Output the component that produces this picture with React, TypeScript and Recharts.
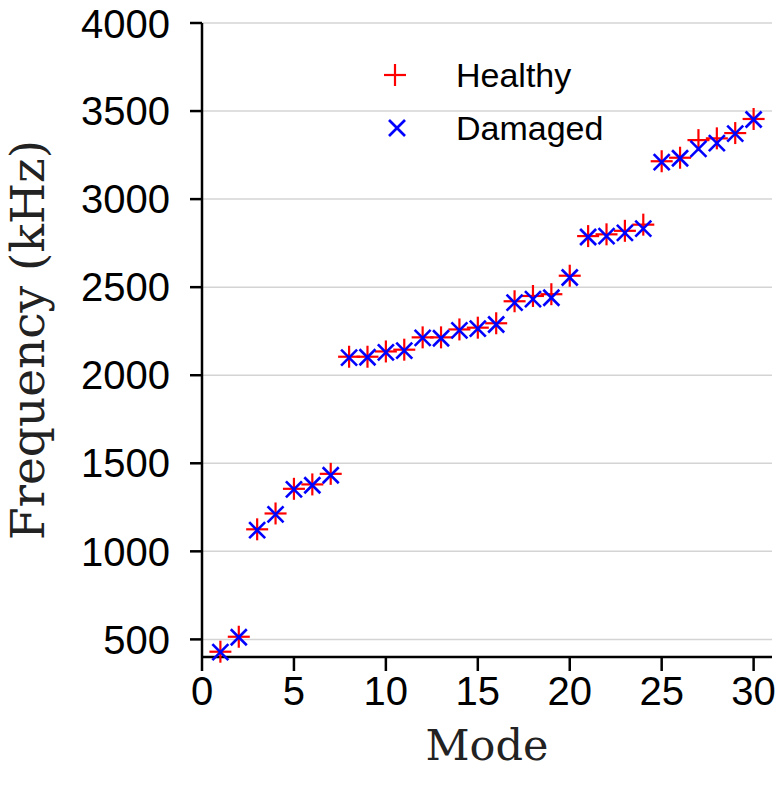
import React from "react";
import { CartesianGrid, Label, Scatter, ScatterChart, XAxis, YAxis } from "recharts";

const modes = [1, 2, 3, 4, 5, 6, 7, 8, 9, 10, 11, 12, 13, 14, 15, 16, 17, 18, 19, 20, 21, 22, 23, 24, 25, 26, 27, 28, 29, 30];
const healthy = [430, 515, 1125, 1215, 1355, 1380, 1440, 2105, 2105, 2135, 2145, 2215, 2215, 2260, 2270, 2295, 2420, 2450, 2460, 2565, 2790, 2800, 2820, 2855, 3215, 3235, 3335, 3345, 3375, 3455];
const damaged = [428, 512, 1120, 1210, 1352, 1375, 1432, 2100, 2102, 2130, 2140, 2212, 2210, 2255, 2265, 2288, 2412, 2432, 2440, 2555, 2785, 2790, 2808, 2832, 3210, 3232, 3285, 3318, 3372, 3452];
const xTicks = [0, 5, 10, 15, 20, 25, 30];
const yTicks = [500, 1000, 1500, 2000, 2500, 3000, 3500, 4000];

const healthyData = modes.map((m, i) => ({ mode: m, freq: healthy[i] }));
const damagedData = modes.map((m, i) => ({ mode: m, freq: damaged[i] }));

const RED = "#ff0000";
const BLUE = "#0000ff";
const sans = "'Liberation Sans', Arial, sans-serif";
const serif = "'DejaVu Serif', serif";

function PlusMark({ cx, cy }: { cx?: number; cy?: number }) {
  if (cx == null || cy == null) return null;
  const r = 11;
  return (
    <g stroke={RED} strokeWidth={2.2}>
      <line x1={cx - r} y1={cy} x2={cx + r} y2={cy} />
      <line x1={cx} y1={cy - r} x2={cx} y2={cy + r} />
    </g>
  );
}

function CrossMark({ cx, cy }: { cx?: number; cy?: number }) {
  if (cx == null || cy == null) return null;
  const r = 8;
  return (
    <g stroke={BLUE} strokeWidth={2.6}>
      <line x1={cx - r} y1={cy - r} x2={cx + r} y2={cy + r} />
      <line x1={cx - r} y1={cy + r} x2={cx + r} y2={cy - r} />
    </g>
  );
}

// legend drawn on top of the plot, no frame
function LegendBox() {
  return (
    <svg width={300} height={110} style={{ position: "absolute", left: 378, top: 50 }}>
      <PlusMark cx={17} cy={25} />
      <text x={78} y={37} fontFamily={sans} fontSize={34} fill="#000">Healthy</text>
      <CrossMark cx={19} cy={78} />
      <text x={78} y={90} fontFamily={sans} fontSize={34} fill="#000">Damaged</text>
    </svg>
  );
}

export default function App() {
  return (
    <div style={{ position: "absolute", left: 0, top: 0, width: 777, height: 793, background: "#fff" }}>
      <ScatterChart width={777} height={793} margin={{ top: 23, right: 5, bottom: 0, left: 0 }}>
        <CartesianGrid vertical={false} stroke="#d4d4d4" strokeWidth={1.5} />
        <XAxis
          type="number"
          dataKey="mode"
          domain={[0, 31]}
          ticks={xTicks}
          height={136}
          tickSize={14}
          tickMargin={6}
          axisLine={{ stroke: "#000", strokeWidth: 2.5 }}
          tickLine={{ stroke: "#000", strokeWidth: 2.5 }}
          tick={{ fill: "#000", fontSize: 40, fontFamily: sans }}
        >
          <Label
            content={({ viewBox }: any) => (
              <text x={viewBox.x + viewBox.width / 2} y={viewBox.y + 103} textAnchor="middle" fontFamily={serif} fontSize={43} fill="#222">
                Mode
              </text>
            )}
          />
        </XAxis>
        <YAxis
          type="number"
          dataKey="freq"
          domain={[400, 4000]}
          ticks={yTicks}
          width={202}
          tickSize={12}
          tickMargin={20}
          axisLine={{ stroke: "#000", strokeWidth: 2.5 }}
          tickLine={{ stroke: "#000", strokeWidth: 2.5 }}
          tick={{ fill: "#000", fontSize: 40, fontFamily: sans }}
        >
          <Label
            content={({ viewBox }: any) => {
              const x = viewBox.x + 44;
              const y = viewBox.y + viewBox.height / 2;
              return (
                <text x={x} y={y} transform={`rotate(-90 ${x} ${y})`} textAnchor="middle" fontFamily={serif} fontSize={47} fill="#222">
                  Frequency (kHz)
                </text>
              );
            }}
          />
        </YAxis>
        <Scatter name="Healthy" data={healthyData} shape={<PlusMark />} isAnimationActive={false} />
        <Scatter name="Damaged" data={damagedData} shape={<CrossMark />} isAnimationActive={false} />
      </ScatterChart>
      <LegendBox />
    </div>
  );
}
